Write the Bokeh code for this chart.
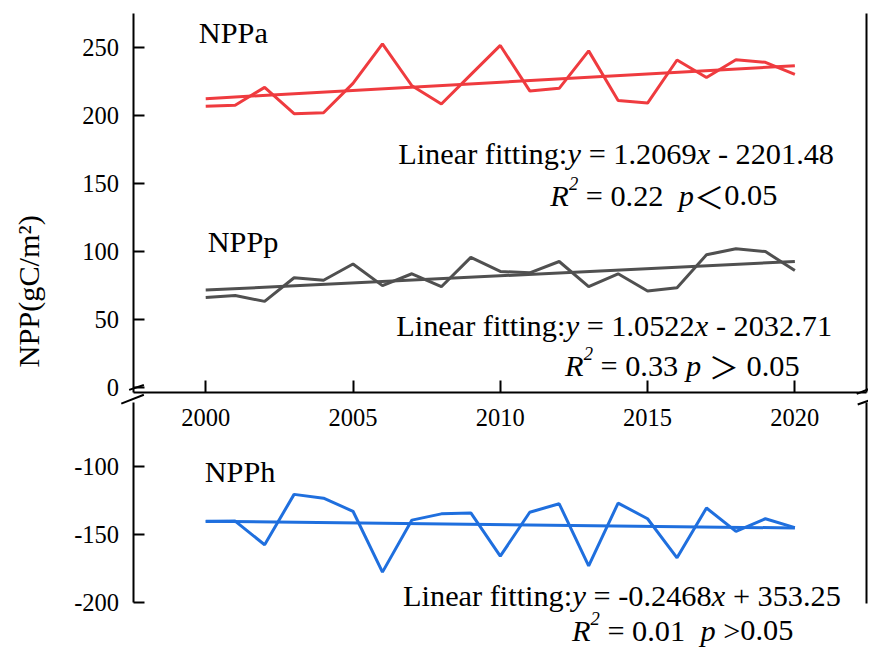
from bokeh.plotting import figure
from bokeh.models import Range1d, LinearAxis, FixedTicker, Label
from bokeh.core.properties import value
from bokeh.embed import file_html
from bokeh.resources import INLINE

# ---------------- data ----------------
years = list(range(2000, 2021))
npp_a = [206.8, 207.5, 220.6, 201.3, 202.0, 223.5, 252.6, 221.8, 208.4, 230.0, 251.4,
         218.0, 219.9, 247.4, 211.0, 209.1, 240.7, 227.8, 240.9, 239.0, 230.1]
npp_p = [66.3, 67.7, 63.4, 80.8, 78.9, 90.9, 75.0, 83.7, 74.2, 95.7, 85.4,
         84.4, 92.7, 74.2, 83.7, 71.0, 73.4, 97.6, 102.1, 100.0, 86.1]
npp_h = [-140.6, -140.2, -157.6, -120.6, -123.4, -133.0, -177.7, -139.5, -134.9, -134.2, -166.0,
         -133.7, -127.5, -173.1, -127.0, -138.5, -167.2, -130.6, -147.8, -138.5, -145.0]
fit_a = (1.2069, -2201.48)
fit_p = (1.0522, -2032.71)
fit_h = (-0.2468, 353.25)
r2_vals = [0.22, 0.33, 0.01]
x_ticks = [2000, 2005, 2010, 2015, 2020]
y_ticks_top = [0, 50, 100, 150, 200, 250]
y_ticks_bot = [-200, -150, -100]
series_names = ["NPPa", "NPPp", "NPPh"]
y_label = "NPP(gC/m\u00b2)"

RED, GREY, BLUE = "#EF3B3F", "#505050", "#1F6FDE"
FONT = "Liberation Serif"

# ---------------- layout: reference-pixel geometry, frame = whole canvas ----------------
W, H = 868, 650
REF_W, REF_H = 884, 666
SX, SY = W / REF_W, H / REF_H
FS = (SX + SY) / 2.0
PX_YEAR = 30.0
PX_UNIT = 1.395


def px2x(rpx):
    return 2000.0 + (rpx - 209.0) / PX_YEAR


def py2y(rpy):            # top panel value at reference pixel row
    return 250.0 - (rpy - 48.0) / PX_UNIT


def py2yb(rpy):           # bottom panel value at reference pixel row
    return -100.0 - (rpy - 477.3) / PX_UNIT


x_start, x_end = px2x(0), px2x(REF_W)
top_start, top_end = py2y(REF_H), py2y(0)
bot_start, bot_end = py2yb(REF_H), py2yb(0)

axis_x0 = px2x(135)
axis_x1 = px2x(882)
xaxis_y = py2y(402)
top_axis_lo, top_axis_hi = xaxis_y, py2y(13)
bot_axis_lo, bot_axis_hi = -200.0, py2yb(411.5)

p = figure(width=W, height=H, output_backend="svg", toolbar_location=None,
           x_range=Range1d(x_start, x_end), y_range=Range1d(top_start, top_end),
           x_axis_location=None, y_axis_location=None,
           min_border_left=0, min_border_right=0, min_border_top=0, min_border_bottom=0)
p.extra_y_ranges = {"bot": Range1d(bot_start, bot_end)}
p.outline_line_color = None
p.grid.visible = False
p.background_fill_color = "white"
p.border_fill_color = "white"


def style_axis(ax, ticks, tick_in, standoff, labels=True):
    ax.ticker = FixedTicker(ticks=ticks)
    ax.major_label_overrides = {t: str(t) for t in ticks}
    ax.axis_line_width = 2
    ax.axis_line_color = "black"
    ax.major_tick_in = tick_in
    ax.major_tick_out = 0
    ax.major_tick_line_width = 2
    ax.major_tick_line_color = "black" if tick_in else None
    ax.minor_tick_line_color = None
    ax.major_label_text_font = FONT
    ax.major_label_text_font_size = "%.1fpx" % (25 * FS)
    ax.major_label_text_color = "black"
    ax.major_label_standoff = standoff
    if not labels:
        ax.major_label_text_font_size = "0px"
        ax.major_label_text_color = None


xax = LinearAxis(fixed_location=xaxis_y, bounds=(axis_x0, axis_x1))
style_axis(xax, x_ticks, 12, 16)
p.add_layout(xax, "below")

ly_top = LinearAxis(fixed_location=axis_x0, bounds=(top_axis_lo, top_axis_hi))
style_axis(ly_top, y_ticks_top, 11, 14)
p.add_layout(ly_top, "left")

ly_bot = LinearAxis(y_range_name="bot", fixed_location=axis_x0, bounds=(bot_axis_lo, bot_axis_hi))
style_axis(ly_bot, y_ticks_bot, 11, 14)
p.add_layout(ly_bot, "left")

ry_top = LinearAxis(fixed_location=axis_x1, bounds=(top_axis_lo, top_axis_hi))
style_axis(ry_top, [], 0, 0, labels=False)
p.add_layout(ry_top, "right")

ry_bot = LinearAxis(y_range_name="bot", fixed_location=axis_x1,
                    bounds=(py2yb(618), bot_axis_hi))
style_axis(ry_bot, [], 0, 0, labels=False)
p.add_layout(ry_bot, "right")

# break marks (decoration), reference pixels
brk = [((123, 413), (146, 404)), ((131, 399), (146, 394)),
       ((872, 403), (887, 397)), ((873, 414), (887, 409))]
p.segment(x0=[px2x(a[0]) for a, b in brk], y0=[py2y(a[1]) for a, b in brk],
          x1=[px2x(b[0]) for a, b in brk], y1=[py2y(b[1]) for a, b in brk],
          line_color="black", line_width=2)


# ---------------- series ----------------
def trend(coef):
    a, b = coef
    return [a * years[0] + b, a * years[-1] + b]


p.line(years, npp_a, line_color=RED, line_width=3)
p.line([years[0], years[-1]], trend(fit_a), line_color=RED, line_width=3)
p.line(years, npp_p, line_color=GREY, line_width=3)
p.line([years[0], years[-1]], trend(fit_p), line_color=GREY, line_width=3)
p.line(years, npp_h, line_color=BLUE, line_width=3, y_range_name="bot")
p.line([years[0], years[-1]], trend(fit_h), line_color=BLUE, line_width=3, y_range_name="bot")

# ---------------- texts ----------------
REG = {' ': 250, '.': 250, ':': 278, '=': 564, '-': 333, '+': 564, '>': 564, '<': 564,
       'L': 611, 'i': 278, 'n': 500, 'e': 444, 'a': 444, 'r': 333, 'f': 333, 't': 278, 'g': 500}
ITA = {'R': 611, 'p': 500, 'y': 444, 'x': 444}
SIZES = {"reg": 31 * FS, "it": 31 * FS, "sup": 19 * FS, "cjk": 31 * FS}


def seg_w_ref(txt, kind):
    """advance width in reference pixels"""
    s = SIZES[kind]
    if kind == "cjk":
        w = s * len(txt)
    else:
        tab = ITA if kind in ("it", "sup") else REG
        w = sum(tab.get(c, 500) for c in txt) / 1000.0 * s
    return w / SX


def eq_segments(coef):
    a, b = coef
    sign = "-" if b < 0 else "+"
    return [("Linear fitting:", "reg"), ("y", "it"), (" = %.4f" % a, "reg"),
            ("x", "it"), (" %s %.2f" % (sign, abs(b)), "reg")]


def r2_segments(r2, rel, rel_kind, gap_before, gap_after):
    segs = [("R", "it"), ("2", "sup"), (" = %.2f" % r2 + " " * gap_before, "reg"), ("p", "it")]
    if gap_after:
        segs.append((" ", "reg"))
    segs.append((rel, rel_kind))
    if gap_after:
        segs.append((" ", "reg"))
    segs.append(("0.05", "reg"))
    return segs


text_lines = [
    (405, 157, eq_segments(fit_a)),
    (560, 200, r2_segments(r2_vals[0], "\uff1c", "cjk", 2, False)),
    (403, 333, eq_segments(fit_p)),
    (575, 375, r2_segments(r2_vals[1], "\uff1e", "cjk", 1, True)),
    (410, 610, eq_segments(fit_h)),
    (582, 646, r2_segments(r2_vals[2], " >", "reg", 2, False)),
]

groups = {k: {"x": [], "y": [], "t": []} for k in SIZES}
for px0, base, segs in text_lines:
    cx = px0
    for txt, kind in segs:
        core = txt.strip()
        lead = len(txt) - len(txt.lstrip())
        if core:
            dy = -13 if kind == "sup" else 0
            groups[kind]["x"].append(px2x(cx + seg_w_ref(" " * lead, "reg")))
            groups[kind]["y"].append(py2y(base + dy))
            groups[kind]["t"].append(core)
        cx += seg_w_ref(txt, kind)

# series names
title_pos = [(202, 33), (211, 247), (208, 483)]
for (tx, ty), name in zip(title_pos, series_names):
    groups["reg"]["x"].append(px2x(tx))
    groups["reg"]["y"].append(py2y(ty))
    groups["reg"]["t"].append(name)

font_for = {"reg": FONT, "it": FONT, "sup": FONT, "cjk": "Noto Sans CJK SC"}
for kind, g in groups.items():
    p.text(x=g["x"], y=g["y"], text=g["t"], text_font=value(font_for[kind]),
           text_font_size="%.1fpx" % SIZES[kind],
           text_font_style="italic" if kind in ("it", "sup") else "normal",
           text_align="left", text_baseline="alphabetic", text_color="black")

p.add_layout(Label(x=px2x(29), y=py2y(298), text=y_label, angle=90, angle_units="deg",
                   text_align="center", text_baseline="middle", text_font=FONT,
                   text_font_size="%.1fpx" % (31 * FS), text_color="black"))

open("out.html", "w").write(file_html(p, INLINE))
